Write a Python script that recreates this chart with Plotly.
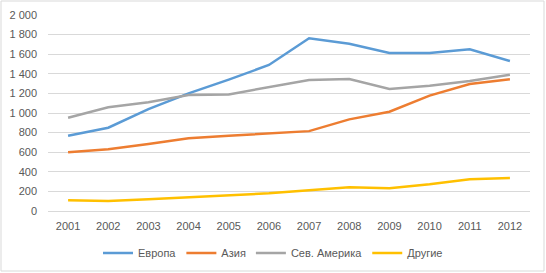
import plotly.graph_objects as go

years = [str(y) for y in range(2001, 2013)]
europe = [768, 850, 1040, 1200, 1340, 1490, 1762, 1707, 1612, 1612, 1650, 1530]
asia = [599, 630, 684, 742, 768, 789, 815, 935, 1013, 1177, 1296, 1344]
namerica = [952, 1058, 1110, 1184, 1190, 1260, 1337, 1347, 1245, 1279, 1327, 1391]
others = [109, 102, 120, 140, 160, 180, 211, 242, 232, 272, 323, 337]

series_names = ["Европа", "Азия", "Сев. Америка", "Другие"]
series_colors = ["#5B9BD5", "#ED7D31", "#A5A5A5", "#FFC000"]
tick_vals = [0, 200, 400, 600, 800, 1000, 1200, 1400, 1600, 1800, 2000]
tick_text = ["0", "200", "400", "600", "800", "1 000", "1 200", "1 400", "1 600", "1 800", "2 000"]

fig = go.Figure()
for name, vals, col in zip(series_names, [europe, asia, namerica, others], series_colors):
    fig.add_trace(go.Scatter(x=years, y=vals, name=name, mode="lines",
                             line=dict(color=col, width=2.5)))

L, R, T, B = 48, 16, 15, 62
W, H = 546, 273
pw, ph = W - L - R, H - T - B

fig.update_layout(
    width=W, height=H,
    margin=dict(l=L, r=R, t=T, b=B, autoexpand=False),
    paper_bgcolor="white", plot_bgcolor="white",
    font=dict(family="Liberation Sans", size=11, color="#595959"),
    showlegend=True,
    legend=dict(orientation="h", xref="container", x=0.5, xanchor="center",
                y=(0 - (253 - (T + ph))) / ph, yanchor="middle",
                font=dict(size=11, color="#595959"), itemwidth=30,
                traceorder="normal"),
    xaxis=dict(type="category", showgrid=False, showline=True, automargin=False,
               linecolor="#D9D9D9", linewidth=1, ticks="", ticklabelstandoff=5,
               range=[-0.5, 11.5]),
    yaxis=dict(range=[0, 2000], tickvals=tick_vals, ticktext=tick_text, automargin=False,
               showgrid=True, gridcolor="#D9D9D9", gridwidth=1,
               zeroline=False, showline=False, ticks="", ticklabelstandoff=10),
    shapes=[dict(type="rect", xref="paper", yref="paper",
                 x0=(1 - L) / pw, x1=(W - 2 - L) / pw,
                 y0=(T + ph - (H - 2)) / ph, y1=(T + ph - 1) / ph,
                 line=dict(color="#D9D9D9", width=1))],
)

fig.write_html("out.html", config={"displayModeBar": False},
               post_script="document.body.style.margin='0';")
